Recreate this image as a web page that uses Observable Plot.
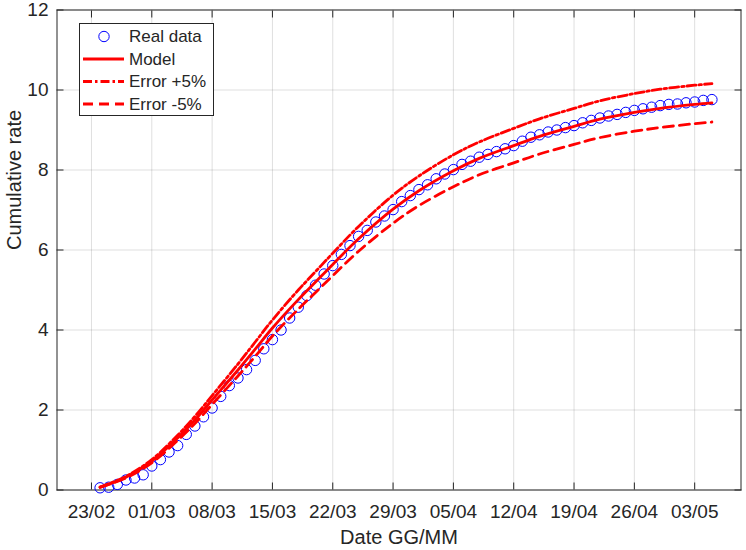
<!DOCTYPE html>
<html><head><meta charset="utf-8">
<script src="https://cdn.jsdelivr.net/npm/d3@7"></script>
<script src="https://cdn.jsdelivr.net/npm/@observablehq/plot@0.6"></script>
<style>
body{margin:0;background:#fff;font-family:"Liberation Sans",Arial,Helvetica,sans-serif;}
#wrap{position:relative;width:746px;height:550px;}
#legend{position:absolute;left:79px;top:23px;}
</style></head><body><div id="wrap"></div>
<script>
// ---- data ----
const xTickLabels = ["23/02","01/03","08/03","15/03","22/03","29/03","05/04","12/04","19/04","26/04","03/05"];
const yTicks = [0, 2, 4, 6, 8, 10, 12];
const seriesNames = ["Real data", "Model", "Error +5%", "Error -5%"];
const realStartDate = "24/02";
const realValues = [
  0.055, 0.07, 0.14, 0.25, 0.30, 0.38,
  0.60, 0.76, 0.95, 1.11, 1.39, 1.60, 1.83, 2.05, 2.34, 2.61, 2.80, 3.01, 3.24, 3.53, 3.76, 4.00,
  4.30, 4.57, 4.86, 5.12, 5.40, 5.61, 5.89, 6.11, 6.34, 6.49, 6.70, 6.85, 7.01, 7.21, 7.36,
  7.51, 7.63, 7.78, 7.90, 8.01, 8.14, 8.22, 8.32, 8.39, 8.46, 8.53, 8.61, 8.72, 8.82, 8.88,
  8.95, 9.00, 9.06, 9.11, 9.18, 9.24, 9.30, 9.35, 9.39, 9.44, 9.49, 9.53, 9.57, 9.61, 9.64,
  9.65, 9.68, 9.70, 9.74, 9.76
];
const modelDates = ["24/02","27/02","01/03","04/03","06/03","08/03","11/03","13/03","15/03","18/03","20/03","22/03","25/03","29/03","01/04","05/04","08/04","12/04","15/04","19/04","22/04","26/04","29/04","03/05","05/05"];
const modelValues      = [0.07, 0.32, 0.72, 1.30, 1.75, 2.25, 3.00, 3.52, 4.05, 4.76, 5.20, 5.64, 6.28, 7.02, 7.48, 7.98, 8.29, 8.61, 8.84, 9.09, 9.27, 9.44, 9.54, 9.64, 9.68];
const errorPlusValues  = [0.074, 0.34, 0.76, 1.37, 1.84, 2.36, 3.15, 3.70, 4.25, 5.00, 5.46, 5.92, 6.59, 7.37, 7.85, 8.38, 8.70, 9.04, 9.28, 9.54, 9.73, 9.91, 10.02, 10.12, 10.16];
const errorMinusValues = [0.067, 0.30, 0.68, 1.24, 1.66, 2.14, 2.85, 3.34, 3.85, 4.52, 4.94, 5.36, 5.97, 6.67, 7.11, 7.58, 7.88, 8.18, 8.40, 8.64, 8.81, 8.97, 9.06, 9.16, 9.20];

// ---- helpers ----
const parseDM = s => { const [d, m] = s.split("/").map(Number); return new Date(Date.UTC(2020, m - 1, d)); };
const fmtDM = d3.utcFormat("%d/%m");
const start = parseDM(realStartDate);
const real = realValues.map((v, i) => ({date: d3.utcDay.offset(start, i), value: v}));
const model = modelDates.map((s, i) => ({date: parseDM(s), model: modelValues[i], plus: errorPlusValues[i], minus: errorMinusValues[i]}));
const xTicks = xTickLabels.map(parseDM);

const ink = "#262626";
const red = "#ff0000";
const dashDot = "9,3,2.5,3";
const dashed = "10,6";

const chart = Plot.plot({
  width: 746, height: 550,
  marginLeft: 56.5, marginRight: 5.5, marginTop: 9.5, marginBottom: 60.5,
  style: {fontFamily: '"Liberation Sans", Arial, Helvetica, sans-serif', fontSize: "19px", color: ink, background: "#fff"},
  x: {type: "utc", domain: [parseDM("19/02"), d3.utcHour.offset(parseDM("08/05"), 9)]},
  y: {domain: [0, 12]},
  marks: [
    Plot.gridX(xTicks, {stroke: ink, strokeOpacity: 0.15}),
    Plot.gridY(yTicks, {stroke: ink, strokeOpacity: 0.15}),
    Plot.axisX(xTicks, {anchor: "bottom", tickSize: -7, tickPadding: 21, tickFormat: fmtDM, label: null, stroke: ink, fill: ink, fontSize: 19}),
    Plot.axisX(xTicks, {anchor: "top", tickSize: -7, tickFormat: () => "", label: null, stroke: ink}),
    Plot.axisY(yTicks, {anchor: "left", tickSize: -7, tickPadding: 15.5, tickFormat: d => String(d), label: null, stroke: ink, fill: ink, fontSize: 19}),
    Plot.axisY(yTicks, {anchor: "right", tickSize: -7, tickFormat: () => "", label: null, stroke: ink}),
    Plot.frame({stroke: ink, strokeWidth: 1}),
    Plot.dot(real, {x: "date", y: "value", r: 5.2, stroke: "#0000ff", strokeWidth: 1, fill: "none"}),
    Plot.line(model, {x: "date", y: "model", stroke: red, strokeWidth: 2.8, curve: "catmull-rom"}),
    Plot.line(model, {x: "date", y: "plus", stroke: red, strokeWidth: 2.8, strokeDasharray: dashDot, curve: "catmull-rom"}),
    Plot.line(model, {x: "date", y: "minus", stroke: red, strokeWidth: 2.8, strokeDasharray: dashed, curve: "catmull-rom"}),
    Plot.text(["Date GG/MM"], {frameAnchor: "bottom", dy: 47.5, lineAnchor: "middle", fontSize: 20, fill: ink}),
    Plot.text(["Cumulative rate"], {frameAnchor: "left", dx: -42.5, rotate: -90, lineAnchor: "middle", fontSize: 20, fill: ink})
  ]
});
document.getElementById("wrap").appendChild(chart);

// ---- legend ----
const ns = "http://www.w3.org/2000/svg";
const lg = document.createElementNS(ns, "svg");
lg.setAttribute("id", "legend");
lg.setAttribute("width", 135); lg.setAttribute("height", 94);
const mk = (tag, attrs) => { const e = document.createElementNS(ns, tag); for (const k in attrs) e.setAttribute(k, attrs[k]); lg.appendChild(e); return e; };
mk("rect", {x: 0.5, y: 0.5, width: 134, height: 92, fill: "#fff", stroke: ink, "stroke-width": 1});
const rowsY = [13.5, 36, 58.5, 81];
const styles = [null, null, dashDot, dashed];
seriesNames.forEach((name, i) => {
  const y = rowsY[i];
  if (i === 0) {
    mk("circle", {cx: 25, cy: y, r: 5.2, fill: "none", stroke: "#0000ff", "stroke-width": 1});
  } else {
    const a = {x1: 4, x2: 45, y1: y, y2: y, stroke: red, "stroke-width": 2.8};
    if (styles[i]) a["stroke-dasharray"] = styles[i];
    mk("line", a);
  }
  const t = mk("text", {x: 50, y: y, dy: "0.35em", fill: ink, "font-size": 17, "font-family": '"Liberation Sans", Arial, sans-serif'});
  t.textContent = name;
});
document.getElementById("wrap").appendChild(lg);
</script>
</body></html>
